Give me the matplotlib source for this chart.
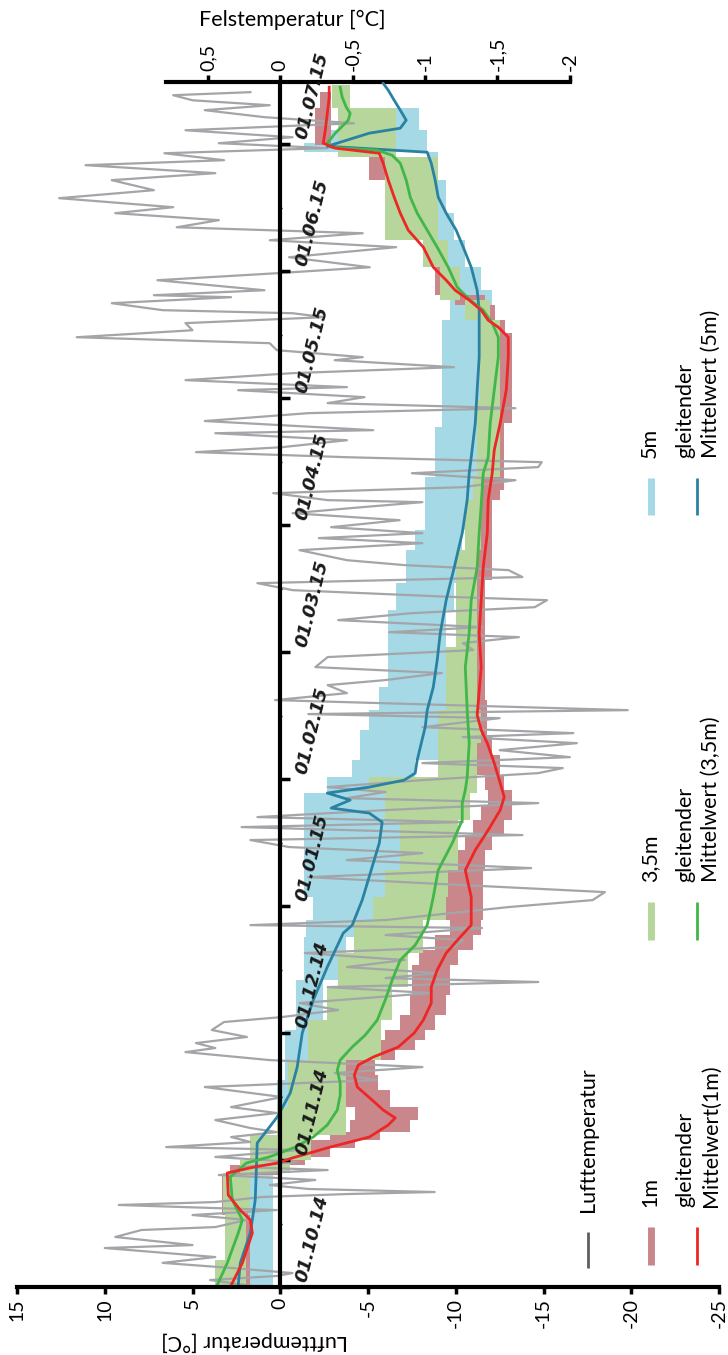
import matplotlib.pyplot as plt
from matplotlib.lines import Line2D
import numpy as np

plt.rcParams['font.family'] = ['Lato', 'DejaVu Sans']

# time axis: month index, 0 = 01.10.14 ... 9 = 01.07.15
datum_labels = ['01.10.14', '01.11.14', '01.12.14', '01.01.15', '01.02.15',
                '01.03.15', '01.04.15', '01.05.15', '01.06.15', '01.07.15']
luft_ticks = [15, 10, 5, 0, -5, -10, -15, -20, -25]
fels_ticks = [0.5, 0, -0.5, -1, -1.5, -2]
fels_ticklabels = ['0,5', '0', '-0,5', '-1', '-1,5', '-2']

# Lufttemperatur [°C]
luft_monat = [0.01, 0.055, 0.087, 0.11, 0.15, 0.19, 0.236, 0.307, 0.33, 0.394, 0.449, 0.472, 0.528,
              0.567, 0.606, 0.646, 0.669, 0.709, 0.732, 0.748, 0.772, 0.803, 0.843, 0.882, 0.921,
              0.945, 0.984, 1.024, 1.079, 1.102, 1.142, 1.181, 1.22, 1.252, 1.315, 1.37, 1.417,
              1.496, 1.575, 1.63, 1.685, 1.732, 1.787, 1.85, 1.882, 1.921, 1.969, 2.024, 2.087,
              2.126, 2.181, 2.236, 2.315, 2.362, 2.402, 2.433, 2.472, 2.52, 2.575, 2.63, 2.677,
              2.732, 2.772, 2.827, 2.85, 2.89, 2.992, 3.047, 3.11, 3.181, 3.228, 3.299, 3.362,
              3.417, 3.465, 3.52, 3.559, 3.622, 3.661, 3.701, 3.756, 3.811, 3.85, 3.898, 3.937,
              3.992, 4.047, 4.087, 4.126, 4.173, 4.228, 4.283, 4.331, 4.362, 4.409, 4.48, 4.512,
              4.543, 4.622, 4.677, 4.74, 4.78, 4.835, 4.882, 4.961, 5.016, 5.071, 5.118, 5.157,
              5.197, 5.252, 5.307, 5.354, 5.409, 5.433, 5.488, 5.543, 5.591, 5.646, 5.685, 5.724,
              5.803, 5.858, 5.898, 5.937, 5.984, 6.039, 6.094, 6.142, 6.181, 6.197, 6.252, 6.299,
              6.354, 6.409, 6.457, 6.496, 6.535, 6.575, 6.614, 6.669, 6.724, 6.748, 6.82, 6.882,
              6.921, 6.961, 7.008, 7.063, 7.087, 7.142, 7.197, 7.244, 7.299, 7.323, 7.378, 7.433,
              7.48, 7.535, 7.591, 7.638, 7.669, 7.693, 7.748, 7.795, 7.811, 7.85, 7.929, 7.984,
              8.031, 8.11, 8.189, 8.244, 8.299, 8.346, 8.402, 8.457, 8.504, 8.575, 8.638, 8.717,
              8.772, 8.835, 8.874, 8.929, 8.969, 9.008, 9.055, 9.11, 9.165, 9.213, 9.268, 9.307,
              9.346, 9.386, 9.41]
luft_temp = [1.7, 4.0, 0.2, -0.7, 2.8, 6.7, 3.7, 10.0, 5.0, 9.4, 7.9, 3.7, 1.9,
             5.0, 0.2, 9.2, 3.7, 1.0, -3.8, -8.8, -1.6, 0.6, -2.0, 3.5, -2.7,
             2.2, -0.9, 3.7, -1.1, 6.5, 1.7, 2.8, 0.2, 1.7, 3.7, 0.2, 2.8,
             -0.1, 4.3, -5.5, -3.1, -8.1, 0.6, 5.4, 3.7, 4.8, 1.9, 3.9, 3.2,
             -0.1, -3.3, -1.1, -8.6, -2.7, -14.7, -6.0, -9.0, -3.8, -7.1, -1.4, -9.9,
             -10.4, -6.0, -11.5, 1.7, -6.0, -13.0, -17.8, -18.5, -8.1, -1.6, -14.3, -3.8,
             -8.1, -0.5, 1.7, -13.8, 2.2, -10.4, 1.3, -6.0, -14.7, -3.8, -6.0, -2.7,
             -8.1, -14.7, -16.1, -8.1, -16.5, -12.5, -16.9, -10.4, -16.7, -8.1, -12.5, -1.6,
             -19.8, 0.3, -3.8, -2.7, -6.0, -9.2, -2.0, -2.7, -11.0, -10.4, -13.6, -6.2,
             -11.5, -3.3, -7.5, -14.5, -15.2, -10.1, -0.7, 1.3, -13.8, -13.0, -7.1, -3.8,
             -1.1, -8.1, -2.2, -8.1, -2.9, -6.8, -0.7, -4.7, -8.1, -2.7, 0.4, -10.4,
             -13.4, -7.5, -14.7, -14.9, -3.8, 4.8, -0.1, -3.8, 3.7, -5.3, 4.3, -1.6,
             -13.4, -2.7, -4.8, 2.4, -3.8, 5.4, -0.7, -9.9, -3.1, -4.7, 0.2, 0.6,
             11.6, 5.0, 5.4, -2.5, -0.7, 6.7, 9.6, 2.8, 7.2, 0.9, 7.0, 0.2,
             -5.1, -0.5, -6.6, 0.6, -4.7, 5.9, 3.5, 9.4, 6.1, 12.6, 7.2, 9.6,
             3.7, 11.1, 3.2, 6.6, -2.7, 3.5, -0.7, 5.4, -4.2, 0.9, 4.3, 0.6,
             5.0, 6.1, 1.7]

# Felstemperatur 1 m: Bandbreite (Stufen) und gleitender Mittelwert [°C]
rot_band_m = [0.0, 0.567, 0.882, 0.961, 1.024, 1.094, 1.157, 1.22, 1.315, 1.417, 1.551, 1.669,
              1.787, 1.866, 1.945, 2.024, 2.142, 2.299, 2.535, 2.654, 2.772, 2.89, 3.283, 3.441,
              3.559, 3.677, 3.795, 3.913, 4.031, 4.189, 4.346, 4.622, 5.567, 6.197, 6.276, 6.803,
              7.512, 7.614, 7.732, 7.811, 8.031, 8.244, 8.457, 8.717, 8.898, 8.992, 9.283, 9.409]
rot_band_warm = [0.373, 0.401, 0.345, 0.124, -0.035, -0.207, -0.345, -0.483, -0.518, -0.449,
                 -0.435, -0.435, -0.483, -0.587, -0.725, -0.829, -0.898, -0.912, -0.96, -1.07,
                 -1.174, -1.146, -1.229, -1.278, -1.333, -1.388, -1.436, -1.416, -1.36, -1.347,
                 -1.333, -1.312, -1.354, -1.36, -1.381, -1.45, -1.416, -1.312, -1.209, -1.07,
                 -0.988, -0.863, -0.746, -0.615, -0.414, -0.242, -0.276]
rot_band_kalt = [0.207, 0.221, 0.0, -0.173, -0.345, -0.518, -0.691, -0.898, -0.953, -0.76,
                 -0.677, -0.656, -0.794, -0.932, -1.001, -1.07, -1.146, -1.174, -1.229, -1.333,
                 -1.388, -1.402, -1.416, -1.464, -1.547, -1.602, -1.602, -1.547, -1.519, -1.464,
                 -1.43, -1.416, -1.464, -1.519, -1.547, -1.602, -1.554, -1.485, -1.416, -1.174,
                 -1.091, -1.001, -0.884, -0.725, -0.691, -0.352, -0.352]
rot_mittel_m = [0.016, 0.189, 0.425, 0.528, 0.606, 0.724, 0.898, 0.945, 0.976, 1.016, 1.102,
                1.181, 1.276, 1.331, 1.394, 1.472, 1.575, 1.669, 1.748, 1.811, 1.89, 2.0, 2.102,
                2.236, 2.362, 2.496, 2.63, 2.756, 2.85, 3.071, 3.283, 3.441, 3.598, 3.756, 3.858,
                3.969, 4.126, 4.283, 4.386, 4.504, 4.882, 5.15, 5.409, 5.669, 5.937, 6.197, 6.409,
                6.591, 6.803, 7.063, 7.323, 7.48, 7.559, 7.614, 7.693, 7.772, 7.85, 7.929, 8.031,
                8.189, 8.323, 8.457, 8.583, 8.717, 8.85, 8.929, 8.969, 9.008, 9.11, 9.244, 9.37,
                9.449]
rot_mittel = [0.338, 0.262, 0.193, 0.207, 0.276, 0.359, 0.366, 0.18, 0.021, -0.083, -0.345,
              -0.615, -0.746, -0.794, -0.711, -0.635, -0.532, -0.511, -0.539, -0.642, -0.815,
              -0.925, -0.988, -1.043, -1.043, -1.084, -1.146, -1.243, -1.319, -1.319, -1.278,
              -1.347, -1.436, -1.519, -1.547, -1.519, -1.478, -1.43, -1.388, -1.36, -1.388,
              -1.374, -1.388, -1.402, -1.43, -1.436, -1.464, -1.478, -1.519, -1.561, -1.575,
              -1.575, -1.506, -1.436, -1.388, -1.305, -1.208, -1.146, -1.057, -0.988, -0.884,
              -0.829, -0.787, -0.746, -0.711, -0.684, -0.38, -0.297, -0.311, -0.325, -0.338,
              -0.338]

# Felstemperatur 3,5 m
gruen_band_m = [0.0, 0.213, 0.583, 0.898, 1.0, 1.197, 1.417, 1.787, 2.102, 2.362, 2.63, 2.89,
                3.071, 3.283, 3.677, 3.89, 4.016, 4.283, 4.543, 5.039, 5.803, 6.197, 6.378,
                6.984, 7.614, 7.772, 8.031, 8.244, 8.898, 9.283, 9.465]
gruen_band_warm = [0.449, 0.38, 0.394, 0.276, 0.207, 0.021, -0.055, -0.193, -0.325, -0.401,
                   -0.511, -0.642, -0.725, -0.829, -0.725, -0.615, -1.091, -1.091, -1.146,
                   -1.215, -1.278, -1.333, -1.36, -1.381, -1.278, -1.105, -0.988, -0.725,
                   -0.401, -0.359]
gruen_band_kalt = [0.235, 0.235, 0.207, -0.069, -0.214, -0.456, -0.456, -0.698, -0.773, -0.884,
                   -0.988, -1.146, -1.16, -1.229, -1.312, -1.36, -1.36, -1.388, -1.36, -1.36,
                   -1.388, -1.388, -1.519, -1.519, -1.45, -1.243, -1.16, -1.091, -0.801, -0.483]
gruen_mittel_m = [0.016, 0.189, 0.425, 0.528, 0.685, 0.866, 0.976, 1.024, 1.102, 1.181, 1.276,
                  1.394, 1.512, 1.606, 1.709, 1.787, 1.89, 1.984, 2.102, 2.26, 2.417, 2.575,
                  2.693, 2.85, 3.071, 3.283, 3.496, 3.677, 3.811, 3.913, 4.016, 4.283, 4.543,
                  4.882, 5.15, 5.409, 5.669, 5.937, 6.157, 6.409, 6.535, 6.803, 7.063, 7.323,
                  7.48, 7.591, 7.693, 7.772, 7.874, 8.031, 8.189, 8.323, 8.457, 8.583, 8.717,
                  8.85, 8.913, 8.953, 8.976, 9.008, 9.087, 9.189, 9.244, 9.291, 9.37, 9.449]
gruen_mittel = [0.435, 0.366, 0.29, 0.262, 0.331, 0.345, 0.235, 0.076, -0.104, -0.228, -0.325,
                -0.394, -0.414, -0.414, -0.394, -0.414, -0.497, -0.587, -0.67, -0.725, -0.773,
                -0.829, -0.932, -1.015, -1.057, -1.091, -1.188, -1.257, -1.257, -1.278, -1.291,
                -1.305, -1.291, -1.278, -1.305, -1.319, -1.36, -1.374, -1.388, -1.402, -1.436,
                -1.45, -1.478, -1.506, -1.506, -1.464, -1.402, -1.312, -1.222, -1.16, -1.084,
                -1.015, -0.946, -0.898, -0.87, -0.829, -0.773, -0.67, -0.352, -0.325, -0.38,
                -0.47, -0.483, -0.456, -0.428, -0.414]

# Felstemperatur 5 m
blau_band_m = [0.0, 0.976, 1.197, 1.63, 2.024, 2.417, 2.756, 2.89, 3.071, 3.89, 4.016, 4.15,
               4.386, 4.543, 4.724, 5.331, 5.543, 5.803, 5.961, 6.197, 6.378, 6.772, 7.614,
               7.85, 8.031, 8.244, 8.457, 8.717, 8.937, 9.008, 9.11, 9.283]
blau_band_warm = [0.262, 0.207, 0.021, -0.035, -0.11, -0.166, -0.18, -0.228, -0.166, -0.325,
                  -0.497, -0.552, -0.615, -0.684, -0.746, -0.801, -0.87, -0.932, -1.001, -1.001,
                  -1.07, -1.119, -1.174, -1.07, -1.057, -1.043, -1.015, -1.015, -0.166, -0.325,
                  -0.773]
blau_band_kalt = [0.048, 0.021, -0.166, -0.193, -0.297, -0.456, -0.566, -0.642, -0.829, -0.856,
                  -0.932, -1.091, -1.091, -1.146, -1.146, -1.202, -1.229, -1.257, -1.278, -1.333,
                  -1.388, -1.436, -1.464, -1.388, -1.278, -1.202, -1.146, -1.091, -1.015, -1.015,
                  -0.96]
blau_mittel_m = [0.016, 0.189, 0.425, 0.528, 0.685, 0.898, 1.134, 1.339, 1.528, 1.732, 2.0, 2.26,
                 2.52, 2.787, 2.85, 3.047, 3.283, 3.496, 3.661, 3.732, 3.772, 3.835, 3.89, 3.937,
                 3.992, 4.047, 4.15, 4.283, 4.409, 4.543, 4.724, 4.937, 5.15, 5.409, 5.669, 5.937,
                 6.197, 6.409, 6.535, 6.803, 7.063, 7.323, 7.693, 7.85, 8.031, 8.189, 8.323,
                 8.457, 8.583, 8.717, 8.85, 8.937, 8.984, 9.087, 9.126, 9.189, 9.268, 9.346,
                 9.425, 9.48]
blau_mittel = [0.29, 0.276, 0.207, 0.193, 0.173, 0.166, 0.159, 0.021, -0.069, -0.117, -0.152,
               -0.228, -0.325, -0.435, -0.497, -0.566, -0.628, -0.684, -0.704, -0.615, -0.352,
               -0.483, -0.325, -0.615, -0.856, -0.932, -0.946, -0.974, -1.001, -1.015, -1.057,
               -1.084, -1.105, -1.146, -1.202, -1.257, -1.291, -1.305, -1.319, -1.347, -1.36,
               -1.374, -1.374, -1.36, -1.319, -1.264, -1.215, -1.146, -1.091, -1.07, -1.043,
               -1.015, -0.325, -0.615, -0.829, -0.87, -0.829, -0.787, -0.746, -0.711]

# ratio between the two temperature axes
FELS_FAKTOR = 8.25


def fels_zu_luft(f):
    return np.asarray(f) * FELS_FAKTOR


def luft_zu_fels(l):
    return np.asarray(l) / FELS_FAKTOR


c_grau = '#a4a5a8'
c_band = {'rot': '#c9878b', 'gruen': '#b6d69c', 'blau': '#a5d9e6'}
c_linie = {'rot': '#ed2626', 'gruen': '#41b649', 'blau': '#2a82a3'}

fig = plt.figure(figsize=(7.28, 13.55), dpi=100)
ax = fig.add_axes([17 / 728, 68 / 1355, 702 / 728, 1205 / 1355])


def band(m, warm, kalt, farbe, z):
    ax.fill_betweenx(m, fels_zu_luft(np.append(warm, warm[-1])),
                     fels_zu_luft(np.append(kalt, kalt[-1])),
                     step='post', color=farbe, lw=0, zorder=z)


band(blau_band_m, blau_band_warm, blau_band_kalt, c_band['blau'], 1.0)
band(rot_band_m, rot_band_warm, rot_band_kalt, c_band['rot'], 1.1)
band(gruen_band_m, gruen_band_warm, gruen_band_kalt, c_band['gruen'], 1.2)

ax.plot(luft_temp, luft_monat, color=c_grau, lw=1.6, zorder=1.5)

ax.plot(fels_zu_luft(blau_mittel), blau_mittel_m, color=c_linie['blau'], lw=2, zorder=1.8)
ax.plot(fels_zu_luft(gruen_mittel), gruen_mittel_m, color=c_linie['gruen'], lw=2, zorder=1.8)
ax.plot(fels_zu_luft(rot_mittel), rot_mittel_m, color=c_linie['rot'], lw=2, zorder=1.8)

ax.set_xlim(15, -25)
ax.set_ylim(0, 9.49)

# axes / spines
ax.spines['left'].set_visible(False)
ax.spines['top'].set_visible(False)
ax.spines['bottom'].set_linewidth(3)
ax.spines['right'].set_position(('data', 0))
ax.spines['right'].set_linewidth(3)
ax.spines['right'].set_zorder(2.5)

ax.set_xticks(luft_ticks)
ax.set_xticklabels([str(t) for t in luft_ticks], rotation=90)
ax.tick_params(axis='x', direction='out', length=5, width=2.5, labelsize=14, pad=3)

ax.yaxis.tick_right()
ax.set_yticks(range(len(datum_labels)))
ax.set_yticks(np.arange(0.5, 9.0, 1.0), minor=True)
ax.set_yticklabels([])
ax.tick_params(axis='y', which='major', direction='out', length=7, width=2.5)
ax.tick_params(axis='y', which='minor', direction='inout', length=3, width=1)

for i, lab in enumerate(datum_labels):
    ax.text(-1.2, i + 0.04, lab, rotation=76, rotation_mode='anchor', ha='left', va='center',
            fontsize=13, fontweight='bold', fontstyle='italic', color='#1a1a1a', zorder=4,
            family='DejaVu Sans')

sec = ax.secondary_xaxis('top', functions=(luft_zu_fels, fels_zu_luft))
sec.set_xticks(fels_ticks)
sec.set_xticklabels(fels_ticklabels, rotation=90)
sec.tick_params(direction='out', length=5, width=2.5, labelsize=14, pad=3)
sec.spines['top'].set_linewidth(3)
sec.spines['top'].set_bounds(-2.0, 0.79)

fig.text(292 / 728, 1 - 20 / 1355, 'Felstemperatur [°C]', ha='center', va='center', fontsize=15.5)
fig.text(255 / 728, 1 - 1341 / 1355, 'Lufttemperatur [°C]', ha='center', va='center',
         rotation=180, fontsize=15.5)

# legend (rotated, drawn by hand)
def marke(px, py0, py1, farbe, lw):
    fig.add_artist(Line2D([px / 728, px / 728], [1 - py0 / 1355, 1 - py1 / 1355],
                          transform=fig.transFigure, color=farbe, lw=lw, solid_capstyle='butt'))


def legtext(px, py, s):
    fig.text(px / 728, 1 - py / 1355, s, rotation=90, ha='center', va='bottom',
             multialignment='left', linespacing=1.35, fontsize=15.5)


marke(588, 1232, 1268, '#5e5e5e', 2)
legtext(588, 1212, 'Lufttemperatur')
for (py0, py1, tb), key, name in [((1227, 1265, 1207), 'rot', '1m'),
                                  ((902, 940, 882), 'gruen', '3,5m'),
                                  ((478, 515, 458), 'blau', '5m')]:
    marke(651, py0, py1, c_band[key], 5)
    legtext(650, tb, name)
    marke(697, py0, py1, c_linie[key], 2)
    mw = 'Mittelwert(1m)' if name == '1m' else 'Mittelwert (%s)' % name
    legtext(698, tb, 'gleitender\n' + mw)

fig.savefig('out.png', dpi=100)
